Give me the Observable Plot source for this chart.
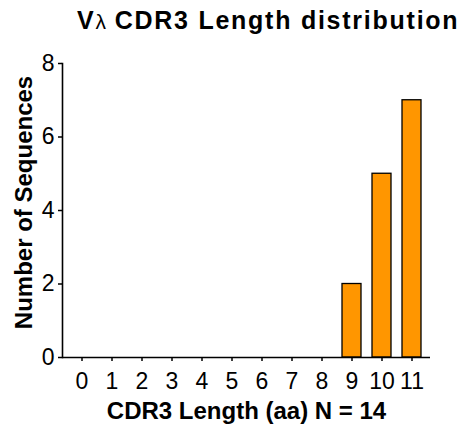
<!DOCTYPE html>
<html>
<head>
<meta charset="utf-8">
<script src="https://cdn.jsdelivr.net/npm/d3@7"></script>
<script src="https://cdn.jsdelivr.net/npm/@observablehq/plot@0.6"></script>
<style>
  body { margin: 0; background: #fff; font-family: "Liberation Sans", Arial, sans-serif; }
  #title { height: 44px; line-height: 40px; font-weight: bold; font-size: 25px; letter-spacing: 1.75px; padding-left: 77px; white-space: nowrap; color: #000; }
  #title .lam { font-weight: normal; font-size: 21px; letter-spacing: 0; }
  #chart svg { display: block; }
</style>
</head>
<body>
<div id="title">V<span class="lam">λ</span> CDR3 Length distribution</div>
<div id="chart"></div>
<script>
const lengths = [0, 1, 2, 3, 4, 5, 6, 7, 8, 9, 10, 11];
const counts  = [0, 0, 0, 0, 0, 0, 0, 0, 0, 2, 5, 7];
const yTicks  = [0, 2, 4, 6, 8];
const xTitle = "CDR3 Length (aa) N = 14";
const yTitle = "Number of Sequences";

const data = lengths.map((l, i) => ({len: l, count: counts[i]}));

const plot = Plot.plot({
  width: 462,
  height: 382,
  marginTop: 19,
  marginBottom: 69,
  marginLeft: 62,
  marginRight: 32,
  style: {fontFamily: '"Liberation Sans", Arial, sans-serif', color: "#000", background: "#fff"},
  x: {type: "band", domain: lengths, paddingInner: 0.37, paddingOuter: 0.3},
  y: {domain: [0, 8]},
  marks: [
    Plot.barY(data.filter(d => d.count > 0), {x: "len", y: "count", fill: "#ff9600", stroke: "#000", strokeWidth: 1.3}),
    Plot.axisY({ticks: yTicks, tickSize: 4, tickPadding: 4, fontSize: 23, label: null, strokeWidth: 1.5}),
    Plot.axisX({tickSize: 4, tickPadding: 11, fontSize: 23, label: null, strokeWidth: 1.5}),
    Plot.frame({anchor: "left", stroke: "#000", strokeWidth: 1.6}),
    Plot.ruleY([0], {stroke: "#000", strokeWidth: 1.6}),
    Plot.text([xTitle], {frameAnchor: "bottom", dy: 54, fontSize: 24, fontWeight: "bold", lineAnchor: "middle", letterSpacing: 0.65}),
    Plot.text([yTitle], {frameAnchor: "left", textAnchor: "middle", dx: -38, dy: -8, rotate: -90, fontSize: 24, fontWeight: "bold", lineAnchor: "middle", letterSpacing: 1.3})
  ]
});
document.getElementById("chart").appendChild(plot);
</script>
</body>
</html>
